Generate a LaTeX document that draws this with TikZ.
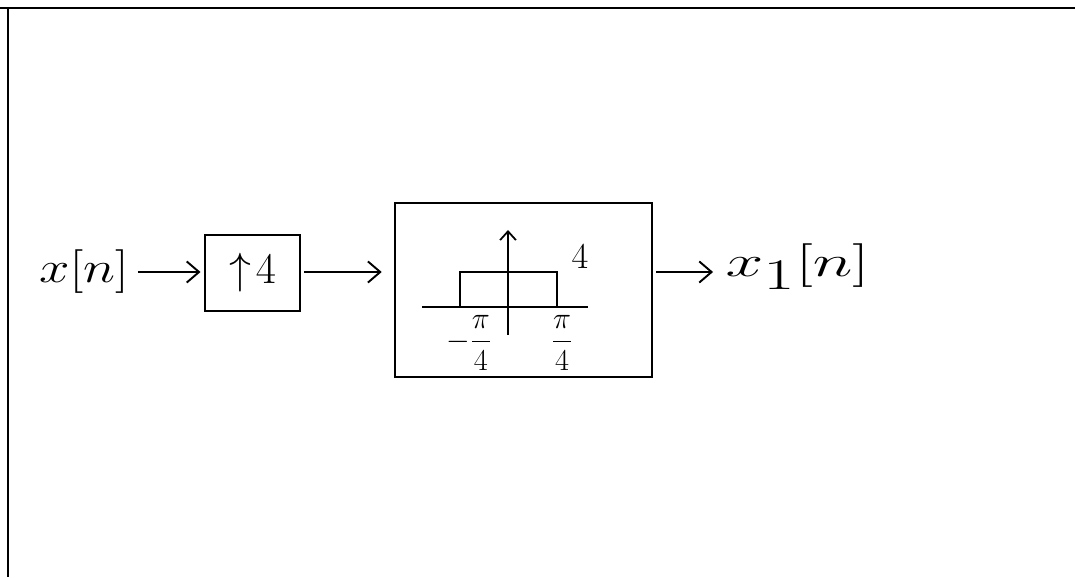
\documentclass[tikz,border=0pt]{standalone}
\usepackage{amsmath,amssymb}
\usepackage{tikz}
\usetikzlibrary{arrows.meta,positioning,calc}

\begin{document}
\begin{tikzpicture}[
  sig/.style={inner sep=1pt, font=\fontsize{30}{34}\selectfont},
  block/.style={rectangle, draw, line width=1.1pt, minimum width=1.9cm, minimum height=1.52cm, font=\fontsize{30}{34}\selectfont},
  filt/.style={rectangle, draw, line width=1.1pt, minimum width=5.14cm, minimum height=3.48cm},
  lbl/.style={inner sep=1pt, font=\fontsize{17}{20}\selectfont},
  arrow/.style={-{Straight Barb[length=7pt,width=12pt]}, line width=1.1pt},
  axis/.style={line width=1pt}
]
\useasboundingbox (0,0) rectangle (21.5,11.54);
% frame
\draw[line width=1.6pt] (0,11.38) -- (21.5,11.38);
\draw[line width=0.8pt] (0.16,11.38) -- (0.16,0);

\node[sig] (xin) at (1.68,6.1) {\scalebox{1.25}[1]{$x[n]$}};
\node[block] (up) at (5.05,6.08) {$\uparrow\!4$};
\node[filt] (lpf) at (10.47,5.74) {};
\node[sig, font=\fontsize{34}{38}\selectfont] (xout) at (15.95,6.2) {\scalebox{1.55}[1]{$x_{1}[n]$}};

\draw[arrow, shorten <=4pt, shorten >=2pt] (xin.east |- 0,6.1) -- (up.west |- 0,6.1);
\draw[arrow, shorten <=2pt, shorten >=7pt] (up.east |- 0,6.1) -- (lpf.west |- 0,6.1);
\draw[arrow, shorten <=2pt, shorten >=6pt] (lpf.east |- 0,6.1) -- (xout.west |- 0,6.1);

% frequency response inside the filter
\coordinate (o) at (10.16,5.4);
\draw[axis] (8.44,5.4) -- (11.76,5.4);
\draw[axis, -{Straight Barb[length=5pt,width=9pt]}] (10.16,4.84) -- (10.16,6.94);
\draw[axis] (9.2,5.4) -- (9.2,6.1) -- (11.14,6.1) -- (11.14,5.4);
\node[lbl, font=\fontsize{20}{24}\selectfont] (gain) at (11.6,6.4) {$4$};
\node[lbl, anchor=north] (wl) at (9.38,5.27) {$-\dfrac{\pi}{4}$};
\node[lbl, anchor=north] (wr) at (11.24,5.27) {$\dfrac{\pi}{4}$};
\end{tikzpicture}
\end{document}
